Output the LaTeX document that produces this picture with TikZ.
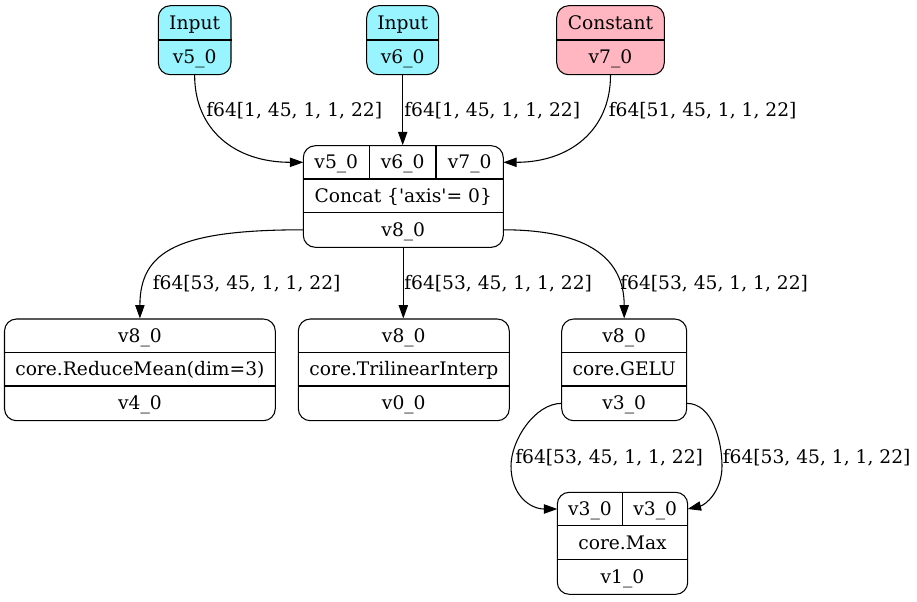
\documentclass[tikz,border=0pt]{standalone}
\usepackage{fontspec}
\setmainfont{DejaVu Serif}[Ligatures=TeXOff]
\usetikzlibrary{arrows.meta}
\definecolor{inputfill}{HTML}{98F5FF}
\definecolor{constfill}{HTML}{FFB6C1}
\begin{document}
\begin{tikzpicture}[x=0.75pt,y=-0.75pt,
  font=\fontsize{14pt}{17pt}\selectfont,
  recbox/.style={draw=black,line width=0.8pt,rounded corners=9pt,rectangle,inner sep=0pt},
  sep/.style={draw=black,line width=0.8pt},
  txt/.style={inner sep=0pt,anchor=base},
  elabel/.style={inner sep=0pt,anchor=base west},
  conn/.style={draw=black,line width=0.8pt,-{Triangle[length=10pt,width=7pt]}}]
\useasboundingbox (0,0) rectangle (917,601);

% ---- source nodes ----
\node[recbox,fill=inputfill,minimum width=72.7*0.75pt,minimum height=69*0.75pt] (in5) at (194.65,40.2) {};
\draw[sep] (in5.west |- 0,40) -- (in5.east |- 0,40);
\node[txt] (in5a) at (194.65,29.6) {Input};
\node[txt] (in5b) at (194.65,63.6) {v5\_0};

\node[recbox,fill=inputfill,minimum width=72*0.75pt,minimum height=69*0.75pt] (in6) at (402.7,40.2) {};
\draw[sep] (in6.west |- 0,40) -- (in6.east |- 0,40);
\node[txt] (in6a) at (402.7,29.6) {Input};
\node[txt] (in6b) at (402.7,63.6) {v6\_0};

\node[recbox,fill=constfill,minimum width=107.6*0.75pt,minimum height=69*0.75pt] (c7) at (610.5,40.2) {};
\draw[sep] (c7.west |- 0,40) -- (c7.east |- 0,40);
\node[txt] (c7a) at (610.5,29.6) {Constant};
\node[txt] (c7b) at (610.5,63.6) {v7\_0};

% ---- concat ----
\node[recbox,minimum width=200*0.75pt,minimum height=101.6*0.75pt] (concat) at (403.3,196.5) {};
\draw[sep] (concat.west |- 0,179) -- (concat.east |- 0,179);
\draw[sep] (concat.west |- 0,212.3) -- (concat.east |- 0,212.3);
\draw[sep] (369.3,179) -- (369.3,0 |- concat.north);
\draw[sep] (436,179) -- (436,0 |- concat.north);
\node[txt] (cc1) at (336.3,168.8) {v5\_0};
\node[txt] (cc2) at (402.65,168.8) {v6\_0};
\node[txt] (cc3) at (469.65,168.8) {v7\_0};
\node[txt] (ccop) at (403.3,202.1) {Concat \{'axis'= 0\}};
\node[txt] (ccout) at (403.3,236.3) {v8\_0};
\coordinate (concat-in1) at (303.3,162.3);
\coordinate (concat-in3) at (503.3,162.3);
\coordinate (concat-outL) at (303.3,229.8);
\coordinate (concat-outR) at (503.3,229.8);

% ---- consumers ----
\node[recbox,minimum width=270.8*0.75pt,minimum height=101.7*0.75pt] (reduce) at (139.9,369.85) {};
\draw[sep] (reduce.west |- 0,352.3) -- (reduce.east |- 0,352.3);
\draw[sep] (reduce.west |- 0,386) -- (reduce.east |- 0,386);
\node[txt] (rd1) at (139.9,342.1) {v8\_0};
\node[txt] (rd2) at (139.9,375.6) {core.ReduceMean(dim=3)};
\node[txt] (rd3) at (139.9,409.8) {v4\_0};

\node[recbox,minimum width=211*0.75pt,minimum height=101.7*0.75pt] (tri) at (403.8,369.85) {};
\draw[sep] (tri.west |- 0,352.3) -- (tri.east |- 0,352.3);
\draw[sep] (tri.west |- 0,386) -- (tri.east |- 0,386);
\node[txt] (tr1) at (403.8,342.1) {v8\_0};
\node[txt] (tr2) at (403.8,375.6) {core.TrilinearInterp};
\node[txt] (tr3) at (403.8,409.8) {v0\_0};

\node[recbox,minimum width=125*0.75pt,minimum height=101.7*0.75pt] (gelu) at (624.2,369.85) {};
\draw[sep] (gelu.west |- 0,352.3) -- (gelu.east |- 0,352.3);
\draw[sep] (gelu.west |- 0,386) -- (gelu.east |- 0,386);
\node[txt] (ge1) at (624.2,342.1) {v8\_0};
\node[txt] (ge2) at (624.2,375.6) {core.GELU};
\node[txt] (ge3) at (624.2,409.8) {v3\_0};
\coordinate (gelu-outL) at (561.7,403.35);
\coordinate (gelu-outR) at (686.7,403.35);

\node[recbox,minimum width=130.4*0.75pt,minimum height=102*0.75pt] (max) at (622.5,543.3) {};
\draw[sep] (max.west |- 0,525.7) -- (max.east |- 0,525.7);
\draw[sep] (max.west |- 0,559.3) -- (max.east |- 0,559.3);
\draw[sep] (622.7,525.7) -- (622.7,0 |- max.north);
\node[txt] (mx1) at (590,515.5) {v3\_0};
\node[txt] (mx2) at (655.2,515.5) {v3\_0};
\node[txt] (mx3) at (622.5,549) {core.Max};
\node[txt] (mx4) at (622.5,583.3) {v1\_0};
\coordinate (max-in1) at (557.3,509);
\coordinate (max-in2) at (687.7,509);

% ---- connectors ----
\draw[conn] (in5.south) .. controls (194.65,130) and (235,162.3) .. (concat-in1);
\draw[conn] (in6.south) -- (in6.south |- concat.north);
\draw[conn] (c7.south) .. controls (610.5,130) and (570,162.3) .. (concat-in3);
\draw[conn] (concat-outL) .. controls (180,229.8) and (139.9,250) .. (reduce.north);
\draw[conn] (concat.south) -- (concat.south |- tri.north);
\draw[conn] (concat-outR) .. controls (590,229.8) and (624.2,260) .. (gelu.north);
\draw[conn] (gelu-outL) .. controls (535,403.35) and (511,440) .. (511,466)
  .. controls (511,495) and (530,509) .. (max-in1);
\draw[conn] (gelu-outR) .. controls (712,403.35) and (722,440) .. (722,466)
  .. controls (722,492) and (705,505) .. (max-in2);

% ---- edge labels ----
\node[elabel] (l1) at (206,116) {f64[1, 45, 1, 1, 22]};
\node[elabel] (l2) at (404,116) {f64[1, 45, 1, 1, 22]};
\node[elabel] (l3) at (608.5,116) {f64[51, 45, 1, 1, 22]};
\node[elabel] (l4) at (152.5,289.5) {f64[53, 45, 1, 1, 22]};
\node[elabel] (l5) at (404,289.5) {f64[53, 45, 1, 1, 22]};
\node[elabel] (l6) at (620,289.5) {f64[53, 45, 1, 1, 22]};
\node[elabel] (l7) at (515,463.5) {f64[53, 45, 1, 1, 22]};
\node[elabel] (l8) at (722.5,463.5) {f64[53, 45, 1, 1, 22]};
\end{tikzpicture}
\end{document}
